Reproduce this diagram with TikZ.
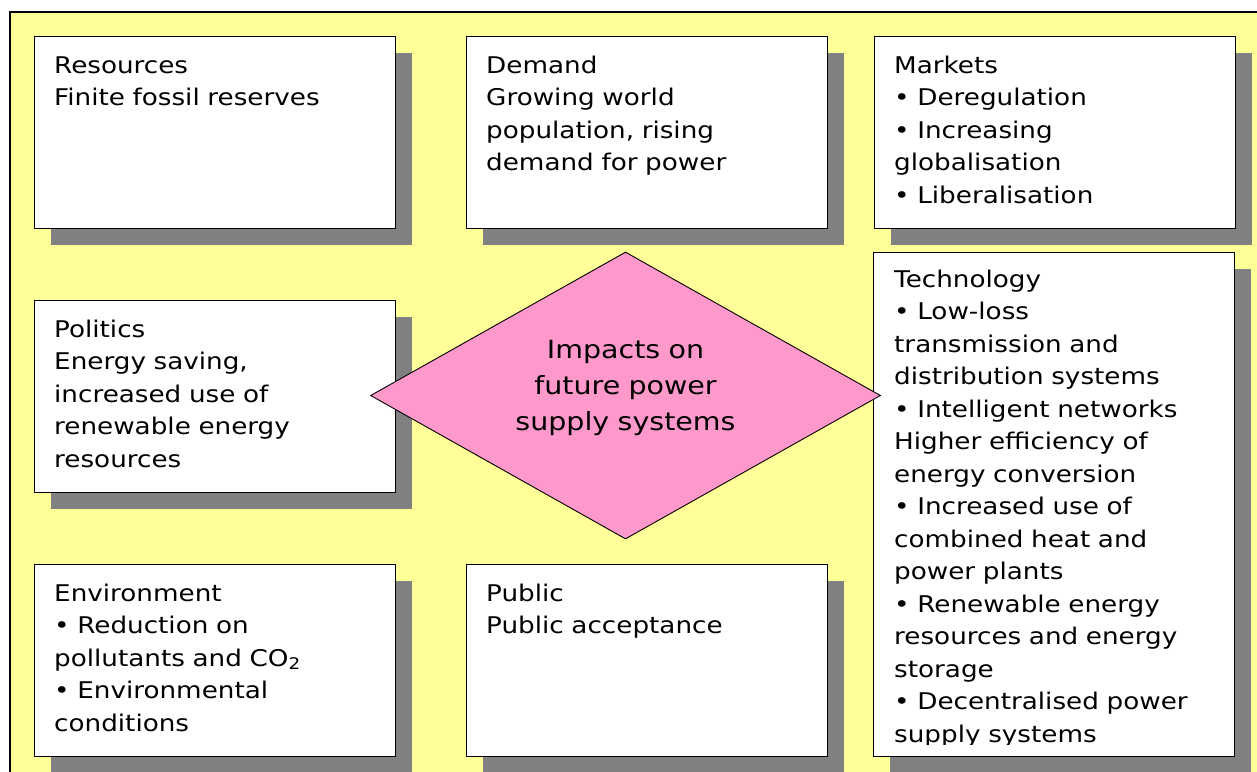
\documentclass[tikz,border=0pt]{standalone}
\usepackage{fontspec}
\setmainfont{DejaVu Sans}[FakeStretch=1.14]
\usepackage{tikz}
\usetikzlibrary{positioning,shapes.geometric,shadows}
\definecolor{paper}{HTML}{FFFF99}
\definecolor{hubpink}{HTML}{FF99CC}
\definecolor{shade}{HTML}{808080}
\tikzset{
  % --- nodes
  card/.style  = {draw=black, line width=1.4pt, fill=white, anchor=north west,
                  minimum width=361pt, minimum height=192pt, inner sep=0pt,
                  drop shadow={shadow xshift=16pt, shadow yshift=-16pt,
                               fill=shade, opacity=1}},
  txt/.style   = {anchor=base west, inner sep=0pt, align=left, text width=335pt,
                  font=\fontsize{23}{32.5}\selectfont},
  hub/.style   = {diamond, draw=black, line width=0.9pt, fill=hubpink,
                  minimum width=510pt, minimum height=287pt, inner sep=0pt},
  hubtxt/.style= {anchor=base, inner sep=0pt, align=center, text width=300pt,
                  font=\fontsize{25}{36}\selectfont},
  % --- frame
  frame/.style = {draw=black, line width=1.5pt, fill=paper},
}

\begin{document}
\begin{tikzpicture}[x=1pt,y=-1pt]
  \useasboundingbox (0,0) rectangle (1257,771);
  \clip (0,0) rectangle (1257,771);
  \draw[frame] (10,12) rectangle (1290,800);

  % boxes
  \node[card] (res)  at (34,36)   {};
  \node[card] (dem)  at (466,36)  {};
  \node[card] (mkt)  at (874,36)  {};
  \node[card] (pol)  at (34,300)  {};
  \node[card, minimum height=504pt] (tech) at (873,252) {};
  \node[card] (env)  at (34,564)  {};
  \node[card] (pub)  at (466,564) {};

  % texts
  \node[txt] (res-t) at ([shift={(20,37)}]res.north west)
    {Resources\\Finite fossil reserves};
  \node[txt] (dem-t) at ([shift={(20,37)}]dem.north west)
    {Demand\\Growing world\\population, rising\\demand for power};
  \node[txt] (mkt-t) at ([shift={(20,37)}]mkt.north west)
    {Markets\\\textbullet{} Deregulation\\\textbullet{} Increasing\\globalisation\\\textbullet{} Liberalisation};
  \node[txt] (pol-t) at ([shift={(20,37)}]pol.north west)
    {Politics\\Energy saving,\\increased use of\\renewable energy\\resources};
  \node[txt] (env-t) at ([shift={(20,37)}]env.north west)
    {Environment\\\textbullet{} Reduction on\\pollutants and CO\textsubscript{2}\\\textbullet{} Environmental\\conditions};
  \node[txt] (pub-t) at ([shift={(20,37)}]pub.north west)
    {Public\\Public acceptance};
  \begin{scope}
    \clip (873,252) rectangle (1235,744);
    \node[txt] (tech-t) at ([shift={(21,35)}]tech.north west)
      {Technology\\\textbullet{} Low-loss\\transmission and\\distribution systems\\
       \textbullet{} Intelligent networks\\Higher efficiency of\\energy conversion\\
       \textbullet{} Increased use of\\combined heat and\\power plants\\
       \textbullet{} Renewable energy\\resources and energy\\storage\\
       \textbullet{} Decentralised power\\supply systems};
  \end{scope}

  % centre
  \node[hub] (imp) at (625.5,395.5) {};
  \node[hubtxt] (imp-t) at ([yshift=37.5pt]imp.center)
    {Impacts on\\future power\\supply systems};
\end{tikzpicture}
\end{document}
